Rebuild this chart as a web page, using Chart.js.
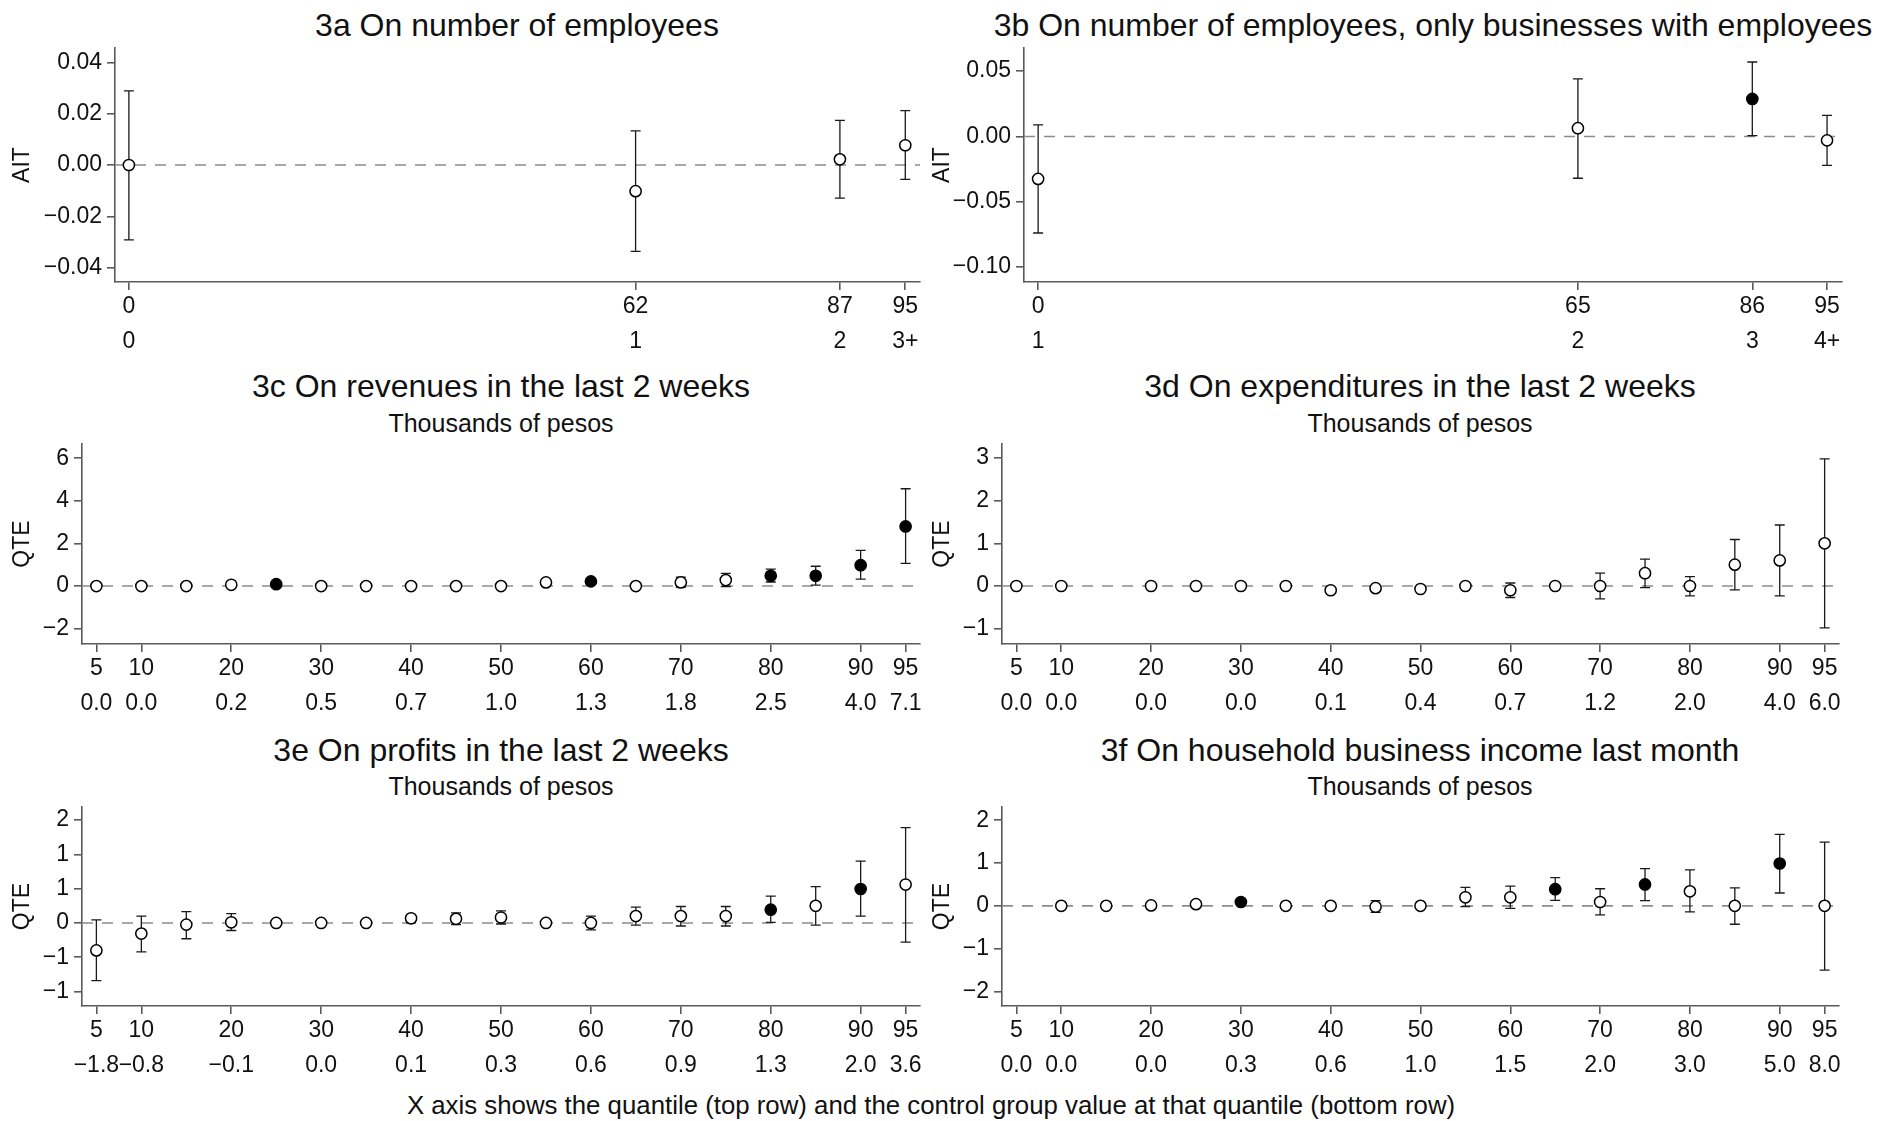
<!DOCTYPE html>
<html>
<head>
<meta charset="utf-8">
<title>Treatment effects by quantile</title>
<script src="https://cdn.jsdelivr.net/npm/chart.js@4.4.1/dist/chart.umd.min.js"></script>
<style>
  html, body { margin: 0; padding: 0; background: #fff; }
  #page { position: relative; width: 1898px; height: 1121px; overflow: hidden;
          font-family: "Liberation Sans", Arial, sans-serif; color: #111; }
  #page canvas { position: absolute; }
  .ttl { position: absolute; transform: translate(-50%, -50%); white-space: nowrap; line-height: 1; }
  .main { font-size: 32px; }
  .sub { font-size: 25px; }
  .foot { font-size: 25.8px; }
</style>
</head>
<body>
<div id="page">
  <div class="ttl main" style="left:517px;top:25px">3a On number of employees</div>
  <div class="ttl main" style="left:1433px;top:25px">3b On number of employees, only businesses with employees</div>
  <div class="ttl main" style="left:501px;top:386px">3c On revenues in the last 2 weeks</div>
  <div class="ttl sub" style="left:501px;top:423px">Thousands of pesos</div>
  <div class="ttl main" style="left:1420px;top:386px">3d On expenditures in the last 2 weeks</div>
  <div class="ttl sub" style="left:1420px;top:423px">Thousands of pesos</div>
  <div class="ttl main" style="left:501px;top:750px">3e On profits in the last 2 weeks</div>
  <div class="ttl sub" style="left:501px;top:786px">Thousands of pesos</div>
  <div class="ttl main" style="left:1420px;top:750px">3f On household business income last month</div>
  <div class="ttl sub" style="left:1420px;top:786px">Thousands of pesos</div>
  <div class="ttl foot" style="left:931px;top:1106px">X axis shows the quantile (top row) and the control group value at that quantile (bottom row)</div>

  <canvas id="cA" width="950" height="332" style="left:0;top:28px"></canvas>
  <canvas id="cB" width="978" height="332" style="left:920px;top:28px"></canvas>
  <canvas id="cC" width="950" height="298" style="left:0;top:424px"></canvas>
  <canvas id="cD" width="978" height="298" style="left:920px;top:424px"></canvas>
  <canvas id="cE" width="950" height="297" style="left:0;top:787px"></canvas>
  <canvas id="cF" width="978" height="297" style="left:920px;top:787px"></canvas>
</div>
<script>
// ---- 3a: number of employees (AIT) ----
const qA = [0, 62, 87, 95];
const estA = [0.0000, -0.0102, 0.0022, 0.0077];
const loA = [-0.0292, -0.0337, -0.0129, -0.0056];
const hiA = [0.0289, 0.0133, 0.0174, 0.0212];
const sigA = [0, 0, 0, 0];
const xTopA = [0, 62, 87, 95];
const xBotA = ['0', '1', '2', '3+'];
const yTickA = [-0.04, -0.02, 0, 0.02, 0.04];
const yLabA = ['\u22120.04', '\u22120.02', '0.00', '0.02', '0.04'];

// ---- 3b: employees, only businesses with employees (AIT) ----
const qB = [0, 65, 86, 95];
const estB = [-0.0325, 0.0063, 0.0287, -0.0030];
const loB = [-0.0739, -0.0320, 0.0006, -0.0222];
const hiB = [0.0089, 0.0440, 0.0570, 0.0162];
const sigB = [0, 0, 1, 0];
const xTopB = [0, 65, 86, 95];
const xBotB = ['1', '2', '3', '4+'];
const yTickB = [-0.10, -0.05, 0, 0.05];
const yLabB = ['\u22120.10', '\u22120.05', '0.00', '0.05'];

// quantile ticks shared by 3c-3f
const xTopQ = [5, 10, 20, 30, 40, 50, 60, 70, 80, 90, 95];

// ---- 3c: revenues (QTE) ----
const qC = [5, 10, 15, 20, 25, 30, 35, 40, 45, 50, 55, 60, 65, 70, 75, 80, 85, 90, 95];
const estC = [0, 0, 0, 0.06, 0.09, 0, 0, 0, 0, 0, 0.17, 0.22, 0, 0.17, 0.28, 0.48, 0.48, 0.98, 2.80];
const loC = [0, 0, 0, 0.06, 0.09, 0, 0, 0, 0, 0, 0.17, 0.22, 0, -0.06, -0.02, 0.19, 0.04, 0.33, 1.07];
const hiC = [0, 0, 0, 0.06, 0.09, 0, 0, 0, 0, 0, 0.17, 0.22, 0, 0.42, 0.60, 0.80, 0.93, 1.68, 4.57];
const sigC = [0, 0, 0, 0, 1, 0, 0, 0, 0, 0, 0, 1, 0, 0, 0, 1, 1, 1, 1];
const xBotC = ['0.0', '0.0', '0.2', '0.5', '0.7', '1.0', '1.3', '1.8', '2.5', '4.0', '7.1'];
const yTickC = [-2, 0, 2, 4, 6];
const yLabC = ['\u22122', '0', '2', '4', '6'];

// ---- 3d: expenditures (QTE) ----
const qD = [5, 10, 20, 25, 30, 35, 40, 45, 50, 55, 60, 65, 70, 75, 80, 85, 90, 95];
const estD = [0, 0, 0, 0, 0, 0, -0.10, -0.05, -0.07, 0, -0.10, 0, 0, 0.30, 0, 0.50, 0.60, 1.00];
const loD = [0, 0, 0, 0, 0, 0, -0.10, -0.05, -0.07, 0, -0.27, 0, -0.30, -0.04, -0.23, -0.09, -0.23, -0.98];
const hiD = [0, 0, 0, 0, 0, 0, -0.10, -0.05, -0.07, 0, 0.07, 0, 0.30, 0.63, 0.22, 1.09, 1.43, 2.98];
const sigD = [0, 0, 0, 0, 0, 0, 0, 0, 0, 0, 0, 0, 0, 0, 0, 0, 0, 0];
const xBotD = ['0.0', '0.0', '0.0', '0.0', '0.1', '0.4', '0.7', '1.2', '2.0', '4.0', '6.0'];
const yTickD = [-1, 0, 1, 2, 3];
const yLabD = ['\u22121', '0', '1', '2', '3'];

// ---- 3e: profits (QTE) ----
const qE = [5, 10, 15, 20, 25, 30, 35, 40, 45, 50, 55, 60, 65, 70, 75, 80, 85, 90, 95];
const estE = [-0.40, -0.155, -0.024, 0.01, 0, 0, 0, 0.068, 0.06, 0.08, 0, 0, 0.10, 0.10, 0.10, 0.194, 0.25, 0.495, 0.56];
const loE = [-0.84, -0.42, -0.23, -0.11, 0, 0, 0, 0.00, -0.024, -0.015, 0, -0.10, -0.03, -0.044, -0.044, 0.01, -0.03, 0.10, -0.28];
const hiE = [0.044, 0.10, 0.165, 0.136, 0, 0, 0, 0.12, 0.146, 0.175, 0, 0.10, 0.23, 0.24, 0.24, 0.39, 0.53, 0.90, 1.39];
const sigE = [0, 0, 0, 0, 0, 0, 0, 0, 0, 0, 0, 0, 0, 0, 0, 1, 0, 1, 0];
const xBotE = ['\u22121.8', '\u22120.8', '\u22120.1', '0.0', '0.1', '0.3', '0.6', '0.9', '1.3', '2.0', '3.6'];
const yTickE = [-1, -0.5, 0, 0.5, 1, 1.5];
const yLabE = ['\u22121', '\u22121', '0', '1', '1', '2'];

// ---- 3f: household business income (QTE) ----
const qF = [10, 15, 20, 25, 30, 35, 40, 45, 50, 55, 60, 65, 70, 75, 80, 85, 90, 95];
const estF = [0, 0, 0.01, 0.04, 0.09, 0, 0, -0.02, 0, 0.20, 0.20, 0.39, 0.09, 0.50, 0.34, 0, 0.99, 0];
const loF = [0, 0, 0.01, 0.04, 0.09, 0, 0, -0.15, 0, -0.02, -0.06, 0.13, -0.21, 0.12, -0.14, -0.43, 0.30, -1.50];
const hiF = [0, 0, 0.01, 0.04, 0.09, 0, 0, 0.12, 0, 0.43, 0.46, 0.66, 0.40, 0.87, 0.84, 0.42, 1.67, 1.49];
const sigF = [0, 0, 0, 0, 1, 0, 0, 0, 0, 0, 0, 1, 0, 1, 0, 0, 1, 0];
const xBotF = ['0.0', '0.0', '0.0', '0.3', '0.6', '1.0', '1.5', '2.0', '3.0', '5.0', '8.0'];
const yTickF = [-2, -1, 0, 1, 2];
const yLabF = ['\u22122', '\u22121', '0', '1', '2'];

Chart.defaults.font.family = '"Liberation Sans", Arial, sans-serif';
Chart.defaults.color = '#111';

const axisGrey = '#5a5a5a';

// dashed zero line + confidence interval whiskers, drawn under the markers
const ciBars = {
  id: 'ciBars',
  beforeDatasetsDraw(chart) {
    const { ctx, chartArea, scales: { x, y } } = chart;
    const ds = chart.data.datasets[0];
    ctx.save();
    const y0 = y.getPixelForValue(0);
    ctx.strokeStyle = '#8c8c8c';
    ctx.lineWidth = 1.6;
    ctx.setLineDash([11, 9]);
    ctx.beginPath();
    ctx.moveTo(chartArea.left, y0);
    ctx.lineTo(chartArea.right, y0);
    ctx.stroke();
    ctx.setLineDash([]);
    ctx.strokeStyle = '#1a1a1a';
    ctx.lineWidth = 1.3;
    ds.data.forEach((p, i) => {
      if (ds.hi[i] === ds.lo[i]) return;
      const px = x.getPixelForValue(p.x);
      const top = y.getPixelForValue(ds.hi[i]);
      const bot = y.getPixelForValue(ds.lo[i]);
      ctx.beginPath();
      ctx.moveTo(px, top); ctx.lineTo(px, bot);
      ctx.moveTo(px - 5, top); ctx.lineTo(px + 5, top);
      ctx.moveTo(px - 5, bot); ctx.lineTo(px + 5, bot);
      ctx.stroke();
    });
    ctx.restore();
  }
};

function panel(id, o) {
  return new Chart(document.getElementById(id), {
    type: 'scatter',
    data: {
      datasets: [{
        data: o.q.map((q, i) => ({ x: q, y: o.est[i] })),
        lo: o.lo,
        hi: o.hi,
        pointRadius: 5.6,
        pointHoverRadius: 5.6,
        pointBorderWidth: 1.5,
        pointBorderColor: '#000',
        pointBackgroundColor: o.sig.map(s => s ? '#000' : '#fff')
      }]
    },
    options: {
      responsive: false,
      animation: false,
      events: [],
      layout: { padding: { top: 20, right: o.padR, bottom: 0, left: 0 } },
      plugins: { legend: { display: false }, tooltip: { enabled: false } },
      scales: {
        x: {
          type: 'linear',
          min: o.xRange[0],
          max: o.xRange[1],
          border: { color: axisGrey, width: 1.6 },
          grid: { drawOnChartArea: false, tickLength: 8, color: axisGrey, lineWidth: 1.6 },
          ticks: {
            autoSkip: false, maxRotation: 0, minRotation: 0, padding: -1,
            color: '#111', font: { size: 23, lineHeight: 1.53 },
            callback: (v, i) => [String(o.xTop[i]), o.xBot[i]]
          },
          afterBuildTicks: s => { s.ticks = o.xTop.map(v => ({ value: v })); },
          afterFit: s => { s.height = 78; }
        },
        y: {
          type: 'linear',
          min: o.yRange[0],
          max: o.yRange[1],
          border: { color: axisGrey, width: 1.6 },
          grid: { drawOnChartArea: false, tickLength: 8, color: axisGrey, lineWidth: 1.6 },
          ticks: {
            autoSkip: false, padding: 5, color: '#111', font: { size: 23 },
            callback: (v, i) => o.yLab[i]
          },
          title: { display: true, text: o.yTitle, color: '#111', font: { size: 23 }, padding: { top: 9, bottom: 0 } },
          afterBuildTicks: s => { s.ticks = o.yTicks.map(v => ({ value: v })); },
          afterFit: s => { s.width = o.yW; }
        }
      }
    },
    plugins: [ciBars]
  });
}

panel('cA', { q: qA, est: estA, lo: loA, hi: hiA, sig: sigA, xTop: xTopA, xBot: xBotA,
  yTicks: yTickA, yLab: yLabA, yTitle: 'AIT', xRange: [-1.7, 96.8], yRange: [-0.0456, 0.0456], yW: 115, padR: 30 });
panel('cB', { q: qB, est: estB, lo: loB, hi: hiB, sig: sigB, xTop: xTopB, xBot: xBotB,
  yTicks: yTickB, yLab: yLabB, yTitle: 'AIT', xRange: [-1.7, 96.8], yRange: [-0.1114, 0.0677], yW: 104, padR: 56 });
panel('cC', { q: qC, est: estC, lo: loC, hi: hiC, sig: sigC, xTop: xTopQ, xBot: xBotC,
  yTicks: yTickC, yLab: yLabC, yTitle: 'QTE', xRange: [3.4, 96.6], yRange: [-2.72, 6.67], yW: 82, padR: 30 });
panel('cD', { q: qD, est: estD, lo: loD, hi: hiD, sig: sigD, xTop: xTopQ, xBot: xBotD,
  yTicks: yTickD, yLab: yLabD, yTitle: 'QTE', xRange: [3.4, 96.6], yRange: [-1.36, 3.33], yW: 82, padR: 59 });
panel('cE', { q: qE, est: estE, lo: loE, hi: hiE, sig: sigE, xTop: xTopQ, xBot: xBotE,
  yTicks: yTickE, yLab: yLabE, yTitle: 'QTE', xRange: [3.4, 96.6], yRange: [-1.21, 1.69], yW: 82, padR: 30 });
panel('cF', { q: qF, est: estF, lo: loF, hi: hiF, sig: sigF, xTop: xTopQ, xBot: xBotF,
  yTicks: yTickF, yLab: yLabF, yTitle: 'QTE', xRange: [3.4, 96.6], yRange: [-2.34, 2.31], yW: 82, padR: 59 });
</script>
</body>
</html>
